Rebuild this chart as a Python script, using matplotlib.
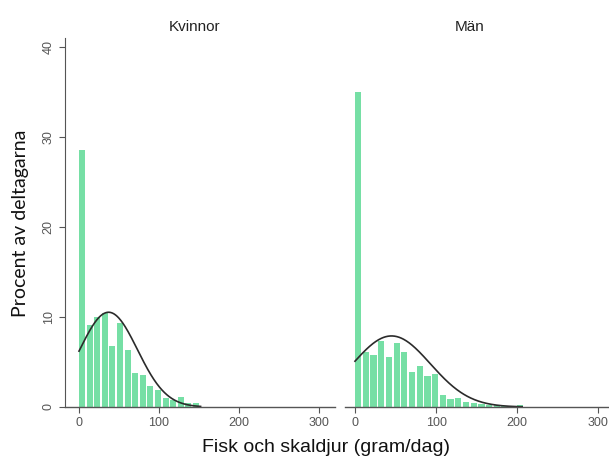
import matplotlib
matplotlib.use("Agg")
import matplotlib.pyplot as plt
import numpy as np

# %%
# histogram data (percent of participants per bin)
bin_width = 9.5
kvinnor_pct = [28.6, 9.1, 10.0, 10.4, 6.8, 9.3, 6.3, 3.8, 3.6, 2.3, 1.9,
               1.0, 0.8, 1.1, 0.4, 0.5]
man_pct = [35.0, 6.1, 5.8, 7.3, 5.6, 7.1, 6.1, 3.9, 4.6, 3.4, 3.7,
           1.3, 0.9, 1.0, 0.6, 0.4, 0.3, 0.25, 0.2, 0.15, 0.1, 0.2]

# fitted normal curves (mean, sd) and drawn range
kvinnor_norm = (37, 36)
man_norm = (45, 48)
kvinnor_range = (0, 152)
man_range = (0, 206)

panel_titles = ["Kvinnor", "Män"]
x_ticks = [0, 100, 200, 300]
y_ticks = [0, 10, 20, 30, 40]

BAR_COLOR = "#76dfa5"
CURVE_COLOR = "#2b2b2b"
TICK_COLOR = "#555555"
TICK_FONT = "Liberation Sans"

# %%
fig = plt.figure(figsize=(6.09, 4.59), dpi=100)
ax_k = fig.add_axes([65 / 609, 52 / 459, 270 / 609, 369 / 459])
ax_m = fig.add_axes([345 / 609, 52 / 459, 264 / 609, 369 / 459], sharey=ax_k)


def draw_panel(ax, pct, norm, xr, xlim):
    edges = np.arange(len(pct)) * bin_width
    ax.bar(edges, pct, width=bin_width * 0.8, align="edge",
           color=BAR_COLOR, linewidth=0)
    mu, sd = norm
    xs = np.linspace(xr[0], xr[1], 300)
    ys = 100 * bin_width / (sd * np.sqrt(2 * np.pi)) * np.exp(-(xs - mu) ** 2 / (2 * sd ** 2))
    ax.plot(xs, ys, color=CURVE_COLOR, lw=1.2)
    ax.set_xlim(*xlim)
    ax.set_xticks(x_ticks)
    ax.tick_params(axis="x", colors=TICK_COLOR, labelsize=9, length=4, width=0.8)
    for lab in ax.get_xticklabels():
        lab.set_family(TICK_FONT)
    for s in ["top", "right"]:
        ax.spines[s].set_visible(False)
    ax.spines["bottom"].set_color("#555555")
    ax.spines["bottom"].set_linewidth(1.0)


draw_panel(ax_k, kvinnor_pct, kvinnor_norm, kvinnor_range, (-17.5, 320))
draw_panel(ax_m, man_pct, man_norm, man_range, (-12.3, 313))

ax_k.set_ylim(0, 41)
ax_k.set_yticks(y_ticks)
ax_k.tick_params(axis="y", colors=TICK_COLOR, labelsize=9, length=4, width=0.8)
for lab in ax_k.get_yticklabels():
    lab.set_rotation(90)
    lab.set_va("center")
    lab.set_family(TICK_FONT)
ax_k.spines["left"].set_color("#555555")
ax_k.spines["left"].set_linewidth(0.8)

ax_m.spines["left"].set_visible(False)
ax_m.tick_params(axis="y", left=False, labelleft=False)

fig.text(195 / 609, 1 - 27 / 459, panel_titles[0], ha="center", va="center",
         fontsize=11, family="Liberation Sans", color="#222222")
fig.text(470 / 609, 1 - 27 / 459, panel_titles[1], ha="center", va="center",
         fontsize=11, family="Liberation Sans", color="#222222")

fig.text(326 / 609, 1 - 448 / 459, "Fisk och skaldjur (gram/dag)", ha="center",
         va="center", fontsize=14, family="Liberation Sans", color="#111111")
fig.text(21 / 609, 1 - 223 / 459, "Procent av deltagarna", ha="center",
         va="center", rotation=90, fontsize=14, family="Lato", color="#111111")

fig.savefig("out.png", dpi=100)
